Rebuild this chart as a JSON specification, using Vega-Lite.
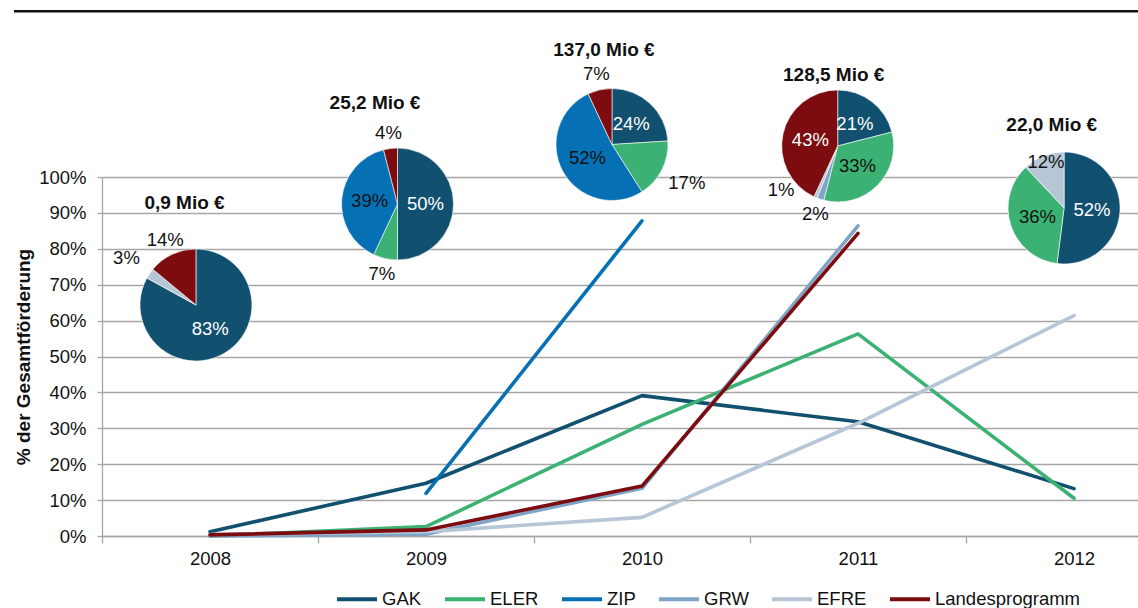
{
  "$schema": "https://vega.github.io/schema/vega-lite/v6.json",
  "width": 1036,
  "height": 359,
  "autosize": "none",
  "padding": {"left": 102, "top": 177, "right": 0, "bottom": 72},
  "background": "white",
  "config": {
    "font": "Liberation Sans",
    "view": {"stroke": null},
    "axis": {
      "labelFont": "Liberation Sans",
      "labelFontSize": 18.5,
      "labelColor": "#111111",
      "domainColor": "#a6a6a6",
      "tickColor": "#a6a6a6",
      "gridColor": "#a6a6a6",
      "domainWidth": 1.3,
      "tickWidth": 1.3,
      "gridWidth": 1.3
    }
  },
  "resolve": {"axis": {"x": "independent", "y": "independent"}},
  "datasets": {
    "linien": [
      {"jahr": 2008, "programm": "GAK", "anteil": 0.012},
      {"jahr": 2009, "programm": "GAK", "anteil": 0.147},
      {"jahr": 2010, "programm": "GAK", "anteil": 0.391},
      {"jahr": 2011, "programm": "GAK", "anteil": 0.318},
      {"jahr": 2012, "programm": "GAK", "anteil": 0.132},
      {"jahr": 2008, "programm": "ELER", "anteil": 0.0},
      {"jahr": 2009, "programm": "ELER", "anteil": 0.026},
      {"jahr": 2010, "programm": "ELER", "anteil": 0.311},
      {"jahr": 2011, "programm": "ELER", "anteil": 0.563},
      {"jahr": 2012, "programm": "ELER", "anteil": 0.105},
      {"jahr": 2009, "programm": "ZIP", "anteil": 0.119},
      {"jahr": 2010, "programm": "ZIP", "anteil": 0.878},
      {"jahr": 2008, "programm": "GRW", "anteil": 0.0},
      {"jahr": 2009, "programm": "GRW", "anteil": 0.005},
      {"jahr": 2010, "programm": "GRW", "anteil": 0.133},
      {"jahr": 2011, "programm": "GRW", "anteil": 0.864},
      {"jahr": 2008, "programm": "EFRE", "anteil": 0.004},
      {"jahr": 2009, "programm": "EFRE", "anteil": 0.012},
      {"jahr": 2010, "programm": "EFRE", "anteil": 0.052},
      {"jahr": 2011, "programm": "EFRE", "anteil": 0.314},
      {"jahr": 2012, "programm": "EFRE", "anteil": 0.614},
      {"jahr": 2008, "programm": "Landesprogramm", "anteil": 0.003},
      {"jahr": 2009, "programm": "Landesprogramm", "anteil": 0.017},
      {"jahr": 2010, "programm": "Landesprogramm", "anteil": 0.139},
      {"jahr": 2011, "programm": "Landesprogramm", "anteil": 0.843}
    ],
    "torten": [
      {"jahr": 2008, "programm": "GAK", "anteil": 83, "label": "83%", "lage": "innen"},
      {"jahr": 2008, "programm": "EFRE", "anteil": 3, "label": "3%", "lage": "weit"},
      {"jahr": 2008, "programm": "Landesprogramm", "anteil": 14, "label": "14%", "lage": "aussen"},
      {"jahr": 2009, "programm": "GAK", "anteil": 50, "label": "50%", "lage": "innen"},
      {"jahr": 2009, "programm": "ELER", "anteil": 7, "label": "7%", "lage": "aussen"},
      {"jahr": 2009, "programm": "ZIP", "anteil": 39, "label": "39%", "lage": "innen"},
      {"jahr": 2009, "programm": "Landesprogramm", "anteil": 4, "label": "4%", "lage": "aussen"},
      {"jahr": 2010, "programm": "GAK", "anteil": 24, "label": "24%", "lage": "innen"},
      {"jahr": 2010, "programm": "ELER", "anteil": 17, "label": "17%", "lage": "weit"},
      {"jahr": 2010, "programm": "ZIP", "anteil": 52, "label": "52%", "lage": "innen"},
      {"jahr": 2010, "programm": "Landesprogramm", "anteil": 7, "label": "7%", "lage": "aussen"},
      {"jahr": 2011, "programm": "GAK", "anteil": 21, "label": "21%", "lage": "innen"},
      {"jahr": 2011, "programm": "ELER", "anteil": 33, "label": "33%", "lage": "innen"},
      {"jahr": 2011, "programm": "GRW", "anteil": 2, "label": "2%", "lage": "aussen"},
      {"jahr": 2011, "programm": "EFRE", "anteil": 1, "label": "1%", "lage": "versetzt"},
      {"jahr": 2011, "programm": "Landesprogramm", "anteil": 43, "label": "43%", "lage": "innen"},
      {"jahr": 2012, "programm": "GAK", "anteil": 52, "label": "52%", "lage": "innen"},
      {"jahr": 2012, "programm": "ELER", "anteil": 36, "label": "36%", "lage": "innen"},
      {"jahr": 2012, "programm": "EFRE", "anteil": 12, "label": "12%", "lage": "mitte"}
    ],
    "anker": [
      {"jahr": 2008, "px": 2007.935, "py": 0.6435, "tx": 2007.882, "ty": 0.9276, "titel": "0,9 Mio €"},
      {"jahr": 2009, "px": 2008.868, "py": 0.9248, "tx": 2008.764, "ty": 1.207, "titel": "25,2 Mio €"},
      {"jahr": 2010, "px": 2009.861, "py": 1.0905, "tx": 2009.824, "ty": 1.3538, "titel": "137,0 Mio €"},
      {"jahr": 2011, "px": 2010.906, "py": 1.0864, "tx": 2010.8875, "ty": 1.2841, "titel": "128,5 Mio €"},
      {"jahr": 2012, "px": 2011.954, "py": 0.9136, "tx": 2011.897, "ty": 1.1448, "titel": "22,0 Mio €"}
    ]
  },
  "layer": [
    {
      "data": {"name": "linien"},
      "mark": {"type": "line", "strokeWidth": 3.6, "strokeCap": "round", "strokeJoin": "round", "clip": false},
      "encoding": {
        "x": {
          "field": "jahr", "type": "quantitative",
          "scale": {"domain": [2007.5, 2012.2963], "nice": false, "zero": false},
          "axis": {
            "values": [2007.5, 2008.5, 2009.5, 2010.5, 2011.5],
            "labelExpr": "format(datum.value + 0.5, 'd')",
            "labelOffset": 108,
            "labelFlush": false,
            "labelOverlap": false,
            "labelBound": false,
            "grid": false,
            "tickSize": 7,
            "labelPadding": 6,
            "title": null
          }
        },
        "y": {
          "field": "anteil", "type": "quantitative",
          "scale": {"domain": [0, 1], "nice": false, "zero": true},
          "axis": {
            "values": [0, 0.1, 0.2, 0.3, 0.4, 0.5, 0.6, 0.7, 0.8, 0.9, 1],
            "format": ".0%",
            "labelOverlap": false,
            "tickSize": 5,
            "labelPadding": 11,
            "grid": true,
            "title": "% der Gesamtförderung",
            "titleFont": "Liberation Sans",
            "titleFontSize": 19,
            "titleFontWeight": "bold",
            "titleColor": "#111111",
            "titlePadding": 5
          }
        },
        "color": {
          "field": "programm", "type": "nominal",
          "scale": {
            "domain": ["GAK", "ELER", "ZIP", "GRW", "EFRE", "Landesprogramm"],
            "range": ["#11506f", "#3bb273", "#0670b5", "#7fa5c6", "#b7c6d6", "#7c0c10"]
          },
          "legend": {
            "orient": "none",
            "legendX": 233,
            "legendY": 400,
            "direction": "horizontal",
            "title": null,
            "symbolType": "stroke",
            "symbolStrokeWidth": 4,
            "symbolSize": 1600,
            "labelFont": "Liberation Sans",
            "labelFontSize": 18.5,
            "labelColor": "#111111",
            "labelLimit": 0,
            "labelOffset": 3,
            "columnPadding": 15,
            "padding": 0
          }
        },
        "order": {"field": "jahr", "type": "quantitative"}
      }
    },
    {
      "data": {"values": [{}]},
      "mark": {"type": "rule", "color": "#111111", "strokeWidth": 2.5, "clip": false},
      "encoding": {
        "x": {"datum": 2007.0926, "type": "quantitative", "axis": null},
        "x2": {"datum": 2012.2963},
        "y": {"datum": 1.4616, "type": "quantitative", "axis": null}
      }
    },
    {
      "data": {"name": "torten"},
      "transform": [
        {"lookup": "jahr", "from": {"data": {"name": "anker"}, "key": "jahr", "fields": ["px", "py"]}},
        {"stack": "anteil", "groupby": ["jahr"], "offset": "normalize", "as": ["s0", "s1"]}
      ],
      "mark": {"type": "arc", "outerRadius": 56, "stroke": "white", "strokeWidth": 0.6, "clip": false},
      "encoding": {
        "x": {"field": "px", "type": "quantitative", "axis": null},
        "y": {"field": "py", "type": "quantitative", "axis": null},
        "theta": {"field": "s0", "type": "quantitative", "scale": {"domain": [0, 1], "range": [0, 6.283185307179586]}},
        "theta2": {"field": "s1"},
        "color": {"field": "programm", "type": "nominal", "legend": null}
      }
    },
    {
      "data": {"name": "torten"},
      "transform": [
        {"lookup": "jahr", "from": {"data": {"name": "anker"}, "key": "jahr", "fields": ["px", "py"]}},
        {"stack": "anteil", "groupby": ["jahr"], "offset": "normalize", "as": ["s0", "s1"]},
        {"fold": ["s0", "s1"], "as": ["k", "v"]},
        {"joinaggregate": [{"op": "mean", "field": "v", "as": "mitte"}], "groupby": ["jahr", "programm"]},
        {"filter": "datum.k === 's0'"}
      ],
      "layer": [
        {
          "transform": [{"filter": "datum.lage === 'innen'"}],
          "mark": {"type": "text", "radius": 28, "fontSize": 18.5, "font": "Liberation Sans", "align": "center", "baseline": "middle", "clip": false},
          "encoding": {
            "color": {"condition": {"test": "datum.programm === 'GAK' || datum.programm === 'Landesprogramm'", "value": "#ffffff"}, "value": "#111111"}
          }
        },
        {
          "transform": [{"filter": "datum.lage === 'mitte'"}],
          "mark": {"type": "text", "radius": 49, "fontSize": 18.5, "font": "Liberation Sans", "align": "center", "baseline": "middle", "color": "#111111", "clip": false}
        },
        {
          "transform": [{"filter": "datum.lage === 'aussen'"}],
          "mark": {"type": "text", "radius": 72, "fontSize": 18.5, "font": "Liberation Sans", "align": "center", "baseline": "middle", "color": "#111111", "clip": false}
        },
        {
          "transform": [{"filter": "datum.lage === 'weit'"}],
          "mark": {"type": "text", "radius": 84, "fontSize": 18.5, "font": "Liberation Sans", "align": "center", "baseline": "middle", "color": "#111111", "clip": false}
        },
        {
          "transform": [{"filter": "datum.lage === 'versetzt'"}],
          "mark": {"type": "text", "radius": 72, "dx": -28, "dy": -22, "fontSize": 18.5, "font": "Liberation Sans", "align": "center", "baseline": "middle", "color": "#111111", "clip": false}
        }
      ],
      "encoding": {
        "x": {"field": "px", "type": "quantitative", "axis": null},
        "y": {"field": "py", "type": "quantitative", "axis": null},
        "theta": {"field": "mitte", "type": "quantitative", "scale": {"domain": [0, 1], "range": [0, 6.283185307179586]}},
        "text": {"field": "label", "type": "nominal"}
      }
    },
    {
      "data": {"name": "anker"},
      "mark": {"type": "text", "fontSize": 19, "fontWeight": "bold", "font": "Liberation Sans", "align": "center", "baseline": "middle", "color": "#111111", "clip": false},
      "encoding": {
        "x": {"field": "tx", "type": "quantitative", "axis": null},
        "y": {"field": "ty", "type": "quantitative", "axis": null},
        "text": {"field": "titel", "type": "nominal"}
      }
    }
  ]
}
